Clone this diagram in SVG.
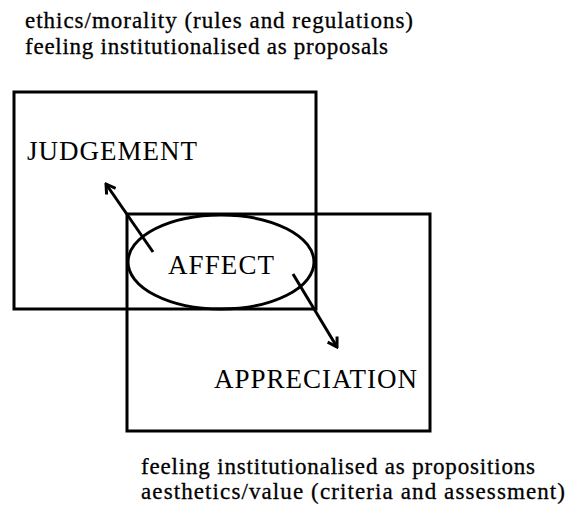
<svg xmlns="http://www.w3.org/2000/svg" width="568" height="510" viewBox="0 0 568 510">
  <style>
    .box { fill: none; stroke: #000; stroke-width: 3; }
    .conn { stroke: #000; stroke-width: 3; fill: none; marker-end: url(#head); }
    .label { font-family: "Liberation Serif", "Times New Roman", serif; font-size: 27px; fill: #000; }
    .note { font-family: "Liberation Serif", "Times New Roman", serif; font-size: 23px; fill: #000; stroke: #000; stroke-width: 0.3; }
  </style>
  <defs>
    <!-- open V arrowhead -->
    <marker id="head" viewBox="-1 -7 13 14" refX="10" refY="0" markerWidth="13" markerHeight="14" orient="auto" markerUnits="userSpaceOnUse">
      <path d="M1,-5.5 L10,0 L1,5.5" fill="none" stroke="#000" stroke-width="3" stroke-linejoin="miter"/>
    </marker>
  </defs>
  <rect width="568" height="510" fill="#fff"/>

  <!-- heading notes -->
  <text class="note" x="25" y="28" textLength="388" lengthAdjust="spacing">ethics/morality (rules and regulations)</text>
  <text class="note" x="25" y="54" textLength="363" lengthAdjust="spacing">feeling institutionalised as proposals</text>

  <g id="judgement">
    <rect class="box" x="14" y="92" width="302" height="217"/>
    <text class="label" x="27" y="160" textLength="170" lengthAdjust="spacing">JUDGEMENT</text>
  </g>

  <g id="appreciation">
    <rect class="box" x="127" y="214" width="303" height="217"/>
    <text class="label" x="214" y="388" textLength="203" lengthAdjust="spacing">APPRECIATION</text>
  </g>

  <g id="affect">
    <ellipse class="box" cx="221" cy="262" rx="93" ry="47"/>
    <text class="label" x="168" y="274" textLength="106" lengthAdjust="spacing">AFFECT</text>
  </g>

  <g id="connectors">
    <line class="conn" x1="153" y1="252" x2="106" y2="184"/>
    <line class="conn" x1="293" y1="274" x2="337" y2="347"/>
  </g>

  <!-- footer notes -->
  <text class="note" x="141" y="474" textLength="394" lengthAdjust="spacing">feeling institutionalised as propositions</text>
  <text class="note" x="141" y="499" textLength="424" lengthAdjust="spacing">aesthetics/value (criteria and assessment)</text>
</svg>
